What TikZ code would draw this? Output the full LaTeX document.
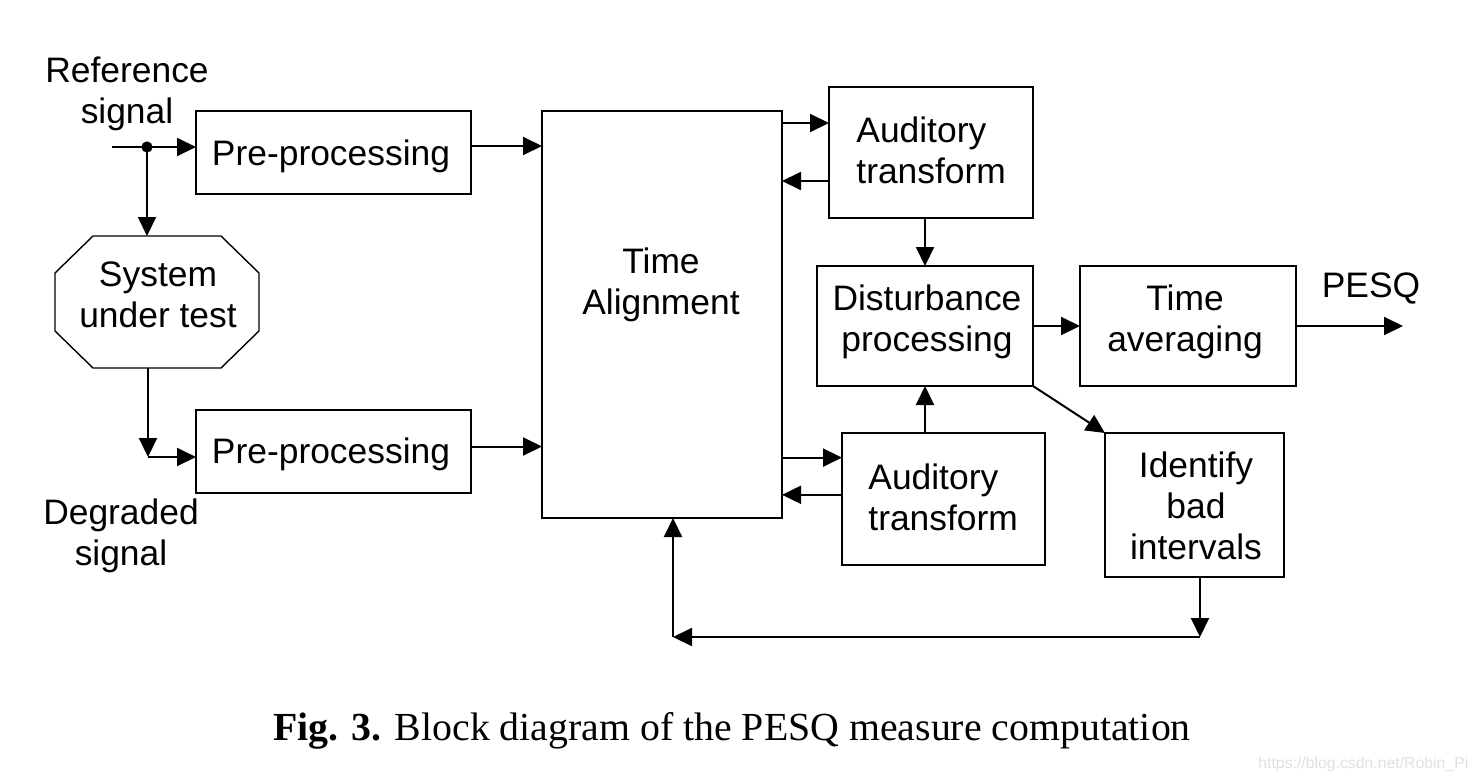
\documentclass[tikz,border=0pt]{standalone}
\usepackage{fontspec}
\setmainfont{Liberation Sans}
\newfontfamily\capfont{Liberation Serif}
\usetikzlibrary{arrows.meta,calc}
\begin{document}
\begin{tikzpicture}[x=0.5pt,y=-0.5pt,
  box/.style={draw,line width=0.7pt,inner sep=0pt,outer sep=0pt},
  txt/.style={inner sep=0pt,font=\fontsize{17.7pt}{20.5pt}\selectfont,align=center},
  conn/.style={line width=1pt,-{Triangle[length=9.5pt,width=9pt]}},
  plain/.style={line width=1pt}]
\useasboundingbox (0,0) rectangle (1478,782);
% boxes
\node[box,minimum width=137.5pt,minimum height=41.5pt] (pre1) at (333.5,152.5) {};
\node[box,minimum width=137.5pt,minimum height=41.5pt] (pre2) at (333.5,451.5) {};
\node[box,minimum width=120pt,minimum height=203.5pt] (ta) at (662,314.5) {};
\node[box,minimum width=102pt,minimum height=65.5pt] (at1) at (931,152.5) {};
\node[box,minimum width=101.5pt,minimum height=66pt] (at2) at (943.5,499) {};
\node[box,minimum width=108pt,minimum height=60pt] (dp) at (925,326) {};
\node[box,minimum width=108pt,minimum height=60pt] (tavg) at (1188,326) {};
\node[box,minimum width=89.5pt,minimum height=72pt] (ibi) at (1194.5,505) {};
% octagon
\node[inner sep=0pt,outer sep=0pt,minimum width=102pt,minimum height=66pt] (sut) at (157,302) {};
\draw[line width=0.7pt]
  ($(sut.north west)+(38,0)$) -- ($(sut.north east)+(-38,0)$) --
  ($(sut.north east)+(0,37)$) -- ($(sut.south east)+(0,-37)$) --
  ($(sut.south east)+(-38,0)$) -- ($(sut.south west)+(38,0)$) --
  ($(sut.south west)+(0,-37)$) -- ($(sut.north west)+(0,37)$) -- cycle;
% texts
\node[txt] (reftxt) at (127,94) {Reference\\signal};
\node[txt] (degtxt) at (121,536) {Degraded\\signal};
\node[txt] (suttxt) at (158,295) {System\\under test};
\node[txt,anchor=base] (pre1txt) at (331,165) {Pre-processing};
\node[txt,anchor=base] (pre2txt) at (331,463) {Pre-processing};
\node[txt] (tatxt) at (661,284.5) {Time\\Alignment};
\node[txt,anchor=west,align=left] (at1txt) at (856,150) {Auditory\\transform};
\node[txt,anchor=west,align=left] (at2txt) at (868,497.5) {Auditory\\transform};
\node[txt] (dptxt) at (927,321.5) {Disturbance\\processing};
\node[txt] (tavgtxt) at (1185,321.5) {Time\\averaging};
\node[txt] (ibitxt) at (1196,506) {Identify\\bad\\intervals};
\node[txt,anchor=base] (pesq) at (1371,297) {PESQ};
% coordinates
\coordinate (refin) at (112,147);
\coordinate (split) at (147,147);
\coordinate (bend) at (148,457);
\coordinate (pesqout) at (1403,326);
\coordinate (fbr) at (1200,637);
\coordinate (fbl) at (673,637);
% connectors
\draw[conn] (refin) -- (split -| pre1.west);
\fill (split) circle[radius=2.8pt];
\draw[conn] (split) -- (split |- sut.north);
\draw[conn] (sut.south -| bend) -- (bend);
\draw[conn] (bend) -- (bend -| pre2.west);
\draw[conn] ([yshift=3.25pt]pre1.east) -- ([yshift=3.25pt]pre1.east -| ta.west);
\draw[conn] ([yshift=2.5pt]pre2.east) -- ([yshift=2.5pt]pre2.east -| ta.west);
\draw[conn] ([yshift=14.75pt]at1.west -| ta.east) -- ([yshift=14.75pt]at1.west);
\draw[conn] ([yshift=-14.25pt]at1.west) -- ([yshift=-14.25pt]at1.west -| ta.east);
\draw[conn] ([yshift=20.7pt]at2.west -| ta.east) -- ([yshift=20.7pt]at2.west);
\draw[conn] ([yshift=2.1pt]at2.west) -- ([yshift=2.1pt]at2.west -| ta.east);
\draw[conn] (at1.south -| dp.north) -- (dp.north);
\draw[conn] (at2.north -| dp.south) -- (dp.south);
\draw[conn] (dp.east) -- (tavg.west);
\draw[conn] (tavg.east) -- (pesqout);
\draw[conn] (dp.south east) -- (ibi.north west);
\draw[conn] (ibi.south -| fbr) -- (fbr);
\draw[conn] (fbr) -- (fbl);
\draw[conn] (fbl) -- (fbl |- ta.south);
% caption
\node[inner sep=0pt,anchor=base,font=\capfont\fontsize{19.9pt}{24pt}\selectfont] (cap) at (732,740) {\textbf{Fig. 3.} Block diagram of the PESQ measure computation};
\node[inner sep=0pt,anchor=base west,text=black!12,font=\fontsize{7.9pt}{9pt}\selectfont] (wm) at (1258,768) {https://blog.csdn.net/Robin\_Pi};
\end{tikzpicture}
\end{document}
